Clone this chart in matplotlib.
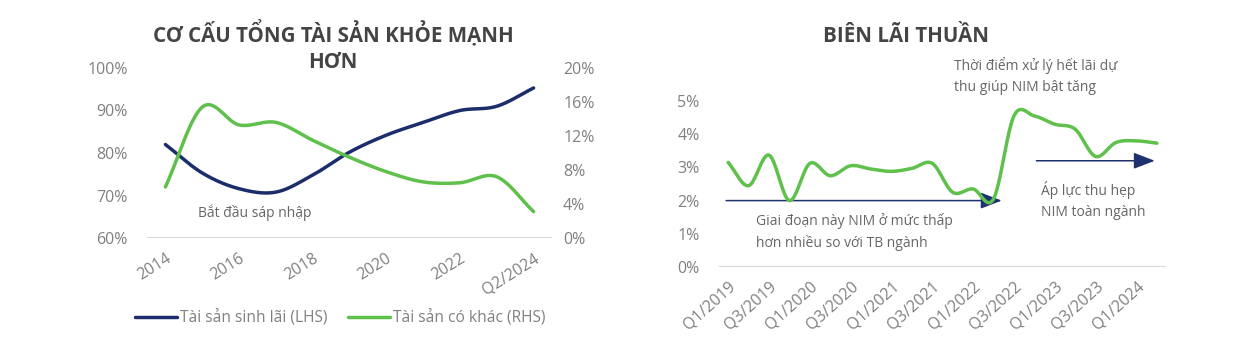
import numpy as np
import matplotlib
matplotlib.use("Agg")
import matplotlib.pyplot as plt
from matplotlib.ticker import FuncFormatter

plt.rcParams['font.family'] = ['Open Sans', 'DejaVu Sans']

# ---------------- data ----------------
years = ["2014", "2015", "2016", "2017", "2018", "2019", "2020", "2021", "2022", "2023", "Q2/2024"]
earning_assets = [82.0, 75.3, 71.6, 70.8, 74.8, 80.2, 84.2, 87.2, 90.0, 91.0, 95.3]   # % LHS
other_assets = [6.0, 15.4, 13.3, 13.6, 11.5, 9.5, 7.8, 6.6, 6.5, 7.2, 3.1]            # % RHS
year_ticks = ["2014", "2016", "2018", "2020", "2022", "Q2/2024"]

quarters = ["Q1/2019", "Q2/2019", "Q3/2019", "Q4/2019",
            "Q1/2020", "Q2/2020", "Q3/2020", "Q4/2020",
            "Q1/2021", "Q2/2021", "Q3/2021", "Q4/2021",
            "Q1/2022", "Q2/2022", "Q3/2022", "Q4/2022",
            "Q1/2023", "Q2/2023", "Q3/2023", "Q4/2023",
            "Q1/2024", "Q2/2024"]
nim = [3.15, 2.45, 3.37, 2.0, 3.12, 2.75, 3.05, 2.95, 2.88, 2.97, 3.12, 2.25,
       2.35, 2.05, 4.55, 4.55, 4.3, 4.15, 3.33, 3.75, 3.8, 3.73]
quarter_ticks = quarters[::2]

NAVY = "#1c2d6b"
GREEN = "#5fc04c"
TICK = "#808080"
TITLE = "#444444"
NOTE = "#666666"
BASE = "#d9d9d9"


def smooth(x, y, n=20):
    """Catmull-Rom display smoothing through the data points."""
    x = np.asarray(x, float)
    y = np.asarray(y, float)
    px = np.concatenate([[2 * x[0] - x[1]], x, [2 * x[-1] - x[-2]]])
    py = np.concatenate([[2 * y[0] - y[1]], y, [2 * y[-1] - y[-2]]])
    xs, ys = [], []
    t = np.linspace(0, 1, n, endpoint=False)
    for i in range(1, len(px) - 2):
        p0, p1, p2, p3 = px[i - 1], px[i], px[i + 1], px[i + 2]
        q0, q1, q2, q3 = py[i - 1], py[i], py[i + 1], py[i + 2]
        for arr, a0, a1, a2, a3 in ((xs, p0, p1, p2, p3), (ys, q0, q1, q2, q3)):
            arr.extend(0.5 * ((2 * a1) + (-a0 + a2) * t +
                              (2 * a0 - 5 * a1 + 4 * a2 - a3) * t ** 2 +
                              (-a0 + 3 * a1 - 3 * a2 + a3) * t ** 3))
    xs.append(x[-1])
    ys.append(y[-1])
    return np.array(xs), np.array(ys)


fig = plt.figure(figsize=(12.42, 3.5), dpi=100)
W, H = 1242, 350

# ---------------- left chart ----------------
ax1 = fig.add_axes([147 / W, 1 - 238 / H, 405 / W, 170 / H])
ax2 = ax1.twinx()
xi = np.arange(len(years))
sx, sy = smooth(xi, earning_assets)
ax1.plot(sx, sy, color=NAVY, lw=2.5, solid_capstyle='round', label="Tài sản sinh lãi (LHS)", zorder=3)
sx2, sy2 = smooth(xi, other_assets)
ax2.plot(sx2, sy2, color=GREEN, lw=2.5, solid_capstyle='round', label="Tài sản có khác (RHS)", zorder=3)
ax1.set_xlim(-0.5, len(years) - 0.5)
ax1.set_ylim(60, 100)
ax2.set_ylim(0, 20)
ax1.set_yticks([60, 70, 80, 90, 100])
ax2.set_yticks([0, 4, 8, 12, 16, 20])
ax1.yaxis.set_major_formatter(FuncFormatter(lambda v, p: f"{v:.0f}%"))
ax2.yaxis.set_major_formatter(FuncFormatter(lambda v, p: f"{v:.0f}%"))
tick_pos = [years.index(t) for t in year_ticks]
ax1.set_xticks(tick_pos)
ax1.set_xticklabels(year_ticks, rotation=32, ha='right', rotation_mode='anchor')
for a in (ax1, ax2):
    for s in a.spines.values():
        s.set_visible(False)
    a.tick_params(length=0, colors=TICK, labelsize=11.5)
    a.patch.set_visible(False)
ax1.tick_params(axis='y', pad=14)
ax2.tick_params(axis='y', pad=8)
ax1.tick_params(axis='x', pad=9)
ax1.axhline(60, color=BASE, lw=1.5, zorder=1)
ax1.text(2.42, 66.0, "Bắt đầu sáp nhập", fontsize=10, color=NOTE, ha='center', va='center')

fig.text(333 / W, 1 - 47 / H, "CƠ CẤU TỔNG TÀI SẢN KHỎE MẠNH\nHƠN", ha='center', va='center',
         fontsize=14.8, fontweight='bold', color=TITLE, linespacing=1.3)

h1, l1 = ax1.get_legend_handles_labels()
h2, l2 = ax2.get_legend_handles_labels()
fig.legend(h1 + h2, l1 + l2, loc='center', bbox_to_anchor=(340 / W, 1 - 318 / H), ncol=2,
           frameon=False, fontsize=11.2, handlelength=2.7, handletextpad=0.2, columnspacing=1.3,
           labelcolor=TICK)

# ---------------- right chart ----------------
ax3 = fig.add_axes([719 / W, 1 - 267 / H, 447 / W, 166 / H])
qi = np.arange(len(quarters))
qx, qy = smooth(qi, nim)
ax3.plot(qx, qy, color=GREEN, lw=2.5, solid_capstyle='round', zorder=3)
ax3.set_xlim(-0.45, len(quarters) - 0.55)
ax3.set_ylim(0, 5)
ax3.set_yticks([0, 1, 2, 3, 4, 5])
ax3.yaxis.set_major_formatter(FuncFormatter(lambda v, p: f"{v:.0f}%"))
ax3.set_xticks([quarters.index(t) for t in quarter_ticks])
ax3.set_xticklabels(quarter_ticks, rotation=42, ha='right', rotation_mode='anchor')
for s in ax3.spines.values():
    s.set_visible(False)
ax3.tick_params(length=0, colors=TICK, labelsize=11.5)
ax3.tick_params(axis='y', pad=14)
ax3.tick_params(axis='x', pad=8)
ax3.patch.set_visible(False)
ax3.axhline(0, color=BASE, lw=1.5, zorder=1)

arrow_style = dict(arrowstyle='-|>,head_length=1.3,head_width=0.5', color="#1f3170", lw=1.1,
                   shrinkA=0, shrinkB=0)
ax3.annotate("", xy=(13.4, 2.0), xytext=(-0.1, 2.0), arrowprops=arrow_style, zorder=2)
ax3.annotate("", xy=(20.9, 3.2), xytext=(15.1, 3.2), arrowprops=arrow_style, zorder=2)

ax3.text(1.35, 1.05, "Giai đoạn này NIM ở mức thấp\nhơn nhiều so với TB ngành", fontsize=10,
         color=NOTE, ha='left', va='center', linespacing=1.5)
ax3.text(15.35, 2.0, "Áp lực thu hẹp\nNIM toàn ngành", fontsize=10,
         color=NOTE, ha='left', va='center', linespacing=1.5)
ax3.text(11.05, 5.75, "Thời điểm xử lý hết lãi dự\nthu giúp NIM bật tăng", fontsize=10,
         color=NOTE, ha='left', va='center', linespacing=1.5, clip_on=False)

fig.text(906 / W, 1 - 37 / H, "BIÊN LÃI THUẦN", ha='center', va='center',
         fontsize=14.8, fontweight='bold', color=TITLE)

fig.savefig("out.png", dpi=100, facecolor='white')
